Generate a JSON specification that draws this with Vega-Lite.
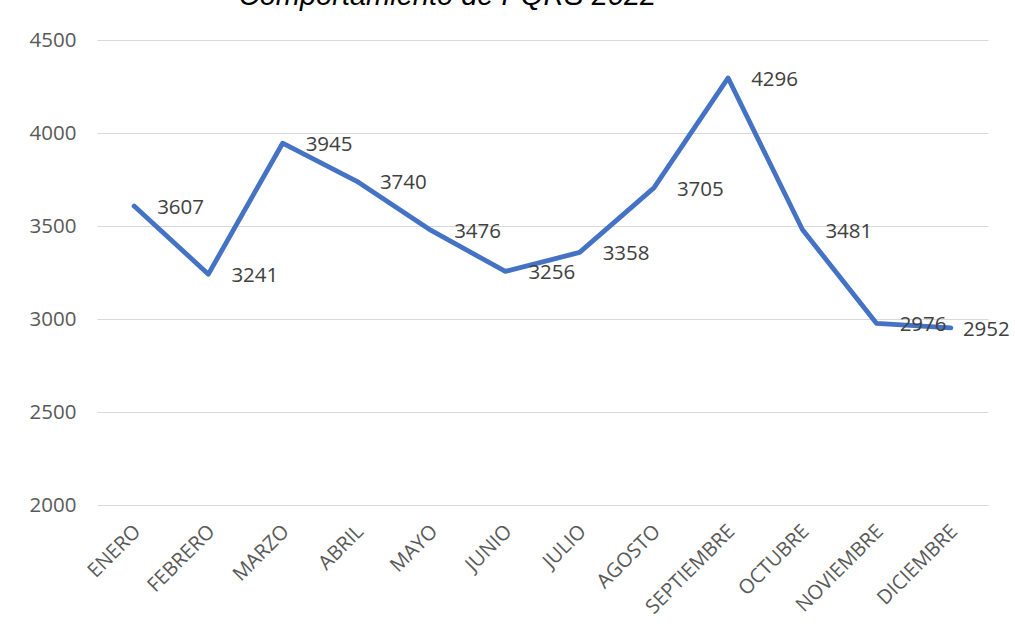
{
  "$schema": "https://vega.github.io/schema/vega-lite/v6.json",
  "autosize": {"type": "none"},
  "width": 891,
  "height": 465,
  "padding": {"left": 97, "top": 40, "right": 27, "bottom": 133},
  "background": "white",
  "title": {
    "text": "Comportamiento de PQRS 2022",
    "font": "Liberation Sans",
    "fontStyle": "italic",
    "fontWeight": "normal",
    "fontSize": 29,
    "color": "#000000",
    "anchor": "middle",
    "baseline": "alphabetic",
    "offset": 19,
    "dy": 23,
    "dx": -95
  },
  "config": {
    "view": {"stroke": null},
    "font": "Open Sans"
  },
  "data": {
    "values": [
      {"mes": "ENERO", "valor": 3607},
      {"mes": "FEBRERO", "valor": 3241},
      {"mes": "MARZO", "valor": 3945},
      {"mes": "ABRIL", "valor": 3740},
      {"mes": "MAYO", "valor": 3476},
      {"mes": "JUNIO", "valor": 3256},
      {"mes": "JULIO", "valor": 3358},
      {"mes": "AGOSTO", "valor": 3705},
      {"mes": "SEPTIEMBRE", "valor": 4296},
      {"mes": "OCTUBRE", "valor": 3481},
      {"mes": "NOVIEMBRE", "valor": 2976},
      {"mes": "DICIEMBRE", "valor": 2952}
    ]
  },
  "encoding": {
    "x": {
      "field": "mes",
      "type": "ordinal",
      "sort": null,
      "scale": {"type": "point", "padding": 0.5},
      "axis": {
        "title": null,
        "domain": false,
        "ticks": false,
        "grid": false,
        "labelAngle": -45,
        "labelAlign": "right",
        "labelBaseline": "middle",
        "labelPadding": 23,
        "labelOffset": 3,
        "labelFont": "Open Sans",
        "labelFontSize": 20,
        "labelColor": "#595959"
      }
    },
    "y": {
      "field": "valor",
      "type": "quantitative",
      "scale": {"domain": [2000, 4500], "nice": false, "zero": false},
      "axis": {
        "title": null,
        "domain": false,
        "ticks": false,
        "format": "d",
        "values": [2000, 2500, 3000, 3500, 4000, 4500],
        "grid": true,
        "gridColor": "#D9D9D9",
        "gridWidth": 1.2,
        "labelPadding": 21,
        "labelFont": "Open Sans",
        "labelFontSize": 20.5,
        "labelColor": "#595959"
      }
    }
  },
  "layer": [
    {
      "mark": {"type": "line", "color": "#4472C4", "strokeWidth": 4.8, "strokeJoin": "round", "strokeCap": "round"}
    },
    {
      "transform": [{"filter": "datum.mes != 'DICIEMBRE'"}],
      "mark": {"type": "text", "align": "left", "baseline": "middle", "dx": 23, "dy": 2, "font": "Open Sans", "fontSize": 20.5, "color": "#404040"},
      "encoding": {"text": {"field": "valor", "type": "quantitative", "format": "d"}}
    },
    {
      "transform": [{"filter": "datum.mes == 'DICIEMBRE'"}],
      "mark": {"type": "text", "align": "left", "baseline": "middle", "dx": 12, "dy": 2, "font": "Open Sans", "fontSize": 20.5, "color": "#404040"},
      "encoding": {"text": {"field": "valor", "type": "quantitative", "format": "d"}}
    }
  ]
}
